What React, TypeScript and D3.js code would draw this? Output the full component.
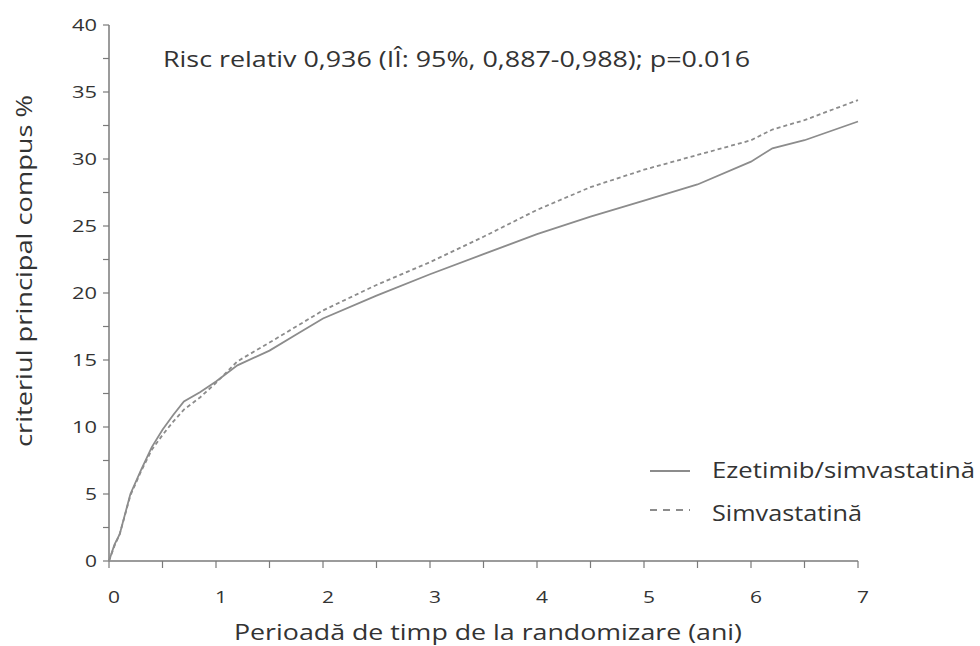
import React, { useRef, useEffect } from "react";
import * as d3 from "d3";

// Kaplan-Meier style cumulative curves
const times = [0, 0.05, 0.1, 0.2, 0.3, 0.4, 0.5, 0.6, 0.7, 0.85, 1.0, 1.2, 1.5, 1.75, 2.0, 2.5, 3.0, 3.5, 4.0, 4.5, 5.0, 5.5, 6.0, 6.2, 6.5, 7.0];
const ezetimib = [0, 1.2, 2.0, 5.0, 6.8, 8.5, 9.8, 10.9, 11.9, 12.6, 13.4, 14.6, 15.7, 16.9, 18.1, 19.8, 21.4, 22.9, 24.4, 25.7, 26.9, 28.1, 29.8, 30.8, 31.4, 32.8];
const simva = [0, 1.1, 2.0, 4.9, 6.7, 8.3, 9.4, 10.4, 11.3, 12.2, 13.3, 14.9, 16.3, 17.5, 18.7, 20.6, 22.3, 24.2, 26.2, 27.9, 29.2, 30.3, 31.4, 32.2, 32.9, 34.4];

const xTicks = [0, 1, 2, 3, 4, 5, 6, 7];
const yTicks = [0, 5, 10, 15, 20, 25, 30, 35, 40];
const seriesNames = ["Ezetimib/simvastatină", "Simvastatină"];
const annotation = "Risc relativ 0,936 (IÎ: 95%, 0,887-0,988);  p=0.016";
const xTitle = "Perioadă de timp de la randomizare (ani)";
const yTitle = "criteriul principal compus %";

const W = 980;
const H = 646;
const FONT = "'Open Sans', 'Noto Sans', sans-serif";
const AXIS = "#7a7a7a";
const LINE = "#8c8c8c";
const TEXT = "#333";

const App = () => {
  const ref = useRef<SVGSVGElement>(null);

  useEffect(() => {
    const svg = d3.select(ref.current);
    svg.selectAll("*").remove();

    const x = d3.scaleLinear().domain([0, 7]).range([109, 858]);
    const y = d3.scaleLinear().domain([0, 40]).range([561, 25]);

    // y axis
    const minorY = d3.range(0, 40.01, 2.5);
    svg.append("line")
      .attr("x1", x(0)).attr("x2", x(0))
      .attr("y1", y(0)).attr("y2", y(40))
      .attr("stroke", AXIS).attr("stroke-width", 1.5);
    svg.selectAll(".ytick")
      .data(minorY)
      .enter().append("line")
      .attr("x1", x(0) - 6).attr("x2", x(0))
      .attr("y1", (d) => y(d)).attr("y2", (d) => y(d))
      .attr("stroke", AXIS).attr("stroke-width", 1.2);
    svg.selectAll(".ylab")
      .data(yTicks)
      .enter().append("text")
      .attr("x", x(0) - 12)
      .attr("y", (d) => y(d))
      .attr("dy", "0.36em")
      .attr("text-anchor", "end")
      .attr("textLength", (d) => (d < 10 ? 12 : 25))
      .attr("lengthAdjust", "spacingAndGlyphs")
      .style("font-family", FONT)
      .style("font-size", "17px")
      .style("fill", TEXT)
      .text((d) => d);

    // x axis
    const minorX = d3.range(0, 7.01, 0.5);
    svg.append("line")
      .attr("x1", x(0)).attr("x2", x(7))
      .attr("y1", y(0)).attr("y2", y(0))
      .attr("stroke", AXIS).attr("stroke-width", 1.5);
    svg.selectAll(".xtick")
      .data(minorX)
      .enter().append("line")
      .attr("x1", (d) => x(d)).attr("x2", (d) => x(d))
      .attr("y1", y(0)).attr("y2", y(0) + 7)
      .attr("stroke", AXIS).attr("stroke-width", 1.2);
    svg.selectAll(".xlab")
      .data(xTicks)
      .enter().append("text")
      .attr("x", (d) => x(d) + 5)
      .attr("y", y(0) + 42)
      .attr("text-anchor", "middle")
      .attr("textLength", 12)
      .attr("lengthAdjust", "spacingAndGlyphs")
      .style("font-family", FONT)
      .style("font-size", "17px")
      .style("fill", TEXT)
      .text((d) => d);

    // titles
    svg.append("text")
      .attr("x", 234).attr("y", 640)
      .attr("textLength", 508)
      .attr("lengthAdjust", "spacingAndGlyphs")
      .style("font-family", FONT).style("font-size", "22px").style("fill", TEXT)
      .text(xTitle);
    svg.append("text")
      .attr("transform", "translate(32,447) rotate(-90)")
      .attr("textLength", 352)
      .attr("lengthAdjust", "spacingAndGlyphs")
      .style("font-family", FONT).style("font-size", "22px").style("fill", TEXT)
      .text(yTitle);
    svg.append("text")
      .attr("x", 163).attr("y", 67)
      .attr("textLength", 587)
      .attr("lengthAdjust", "spacingAndGlyphs")
      .style("font-family", FONT).style("font-size", "22px").style("fill", TEXT)
      .text(annotation);

    // curves
    const line = d3.line<number>()
      .x((d, i) => x(times[i]))
      .y((d) => y(d));
    svg.append("path")
      .attr("d", line(ezetimib))
      .attr("fill", "none").attr("stroke", LINE).attr("stroke-width", 1.8);
    svg.append("path")
      .attr("d", line(simva))
      .attr("fill", "none").attr("stroke", LINE).attr("stroke-width", 1.8)
      .attr("stroke-dasharray", "4,3");

    // legend
    const legend = svg.append("g");
    const lineY = [471, 510];
    const textY = [478, 521];
    const textW = [263, 150];
    seriesNames.forEach((name, i) => {
      legend.append("line")
        .attr("x1", 650).attr("x2", 690)
        .attr("y1", lineY[i]).attr("y2", lineY[i])
        .attr("stroke", LINE).attr("stroke-width", 1.8)
        .attr("stroke-dasharray", i === 1 ? "7,6" : null);
      legend.append("text")
        .attr("x", 712).attr("y", textY[i])
        .attr("textLength", textW[i])
        .attr("lengthAdjust", "spacingAndGlyphs")
        .style("font-family", FONT).style("font-size", "22px").style("fill", TEXT)
        .text(name);
    });
  }, []);

  return (
    <svg
      ref={ref}
      width={W}
      height={H}
      style={{ position: "absolute", left: 0, top: 0, background: "#fff" }}
    ></svg>
  );
};

export default App;
